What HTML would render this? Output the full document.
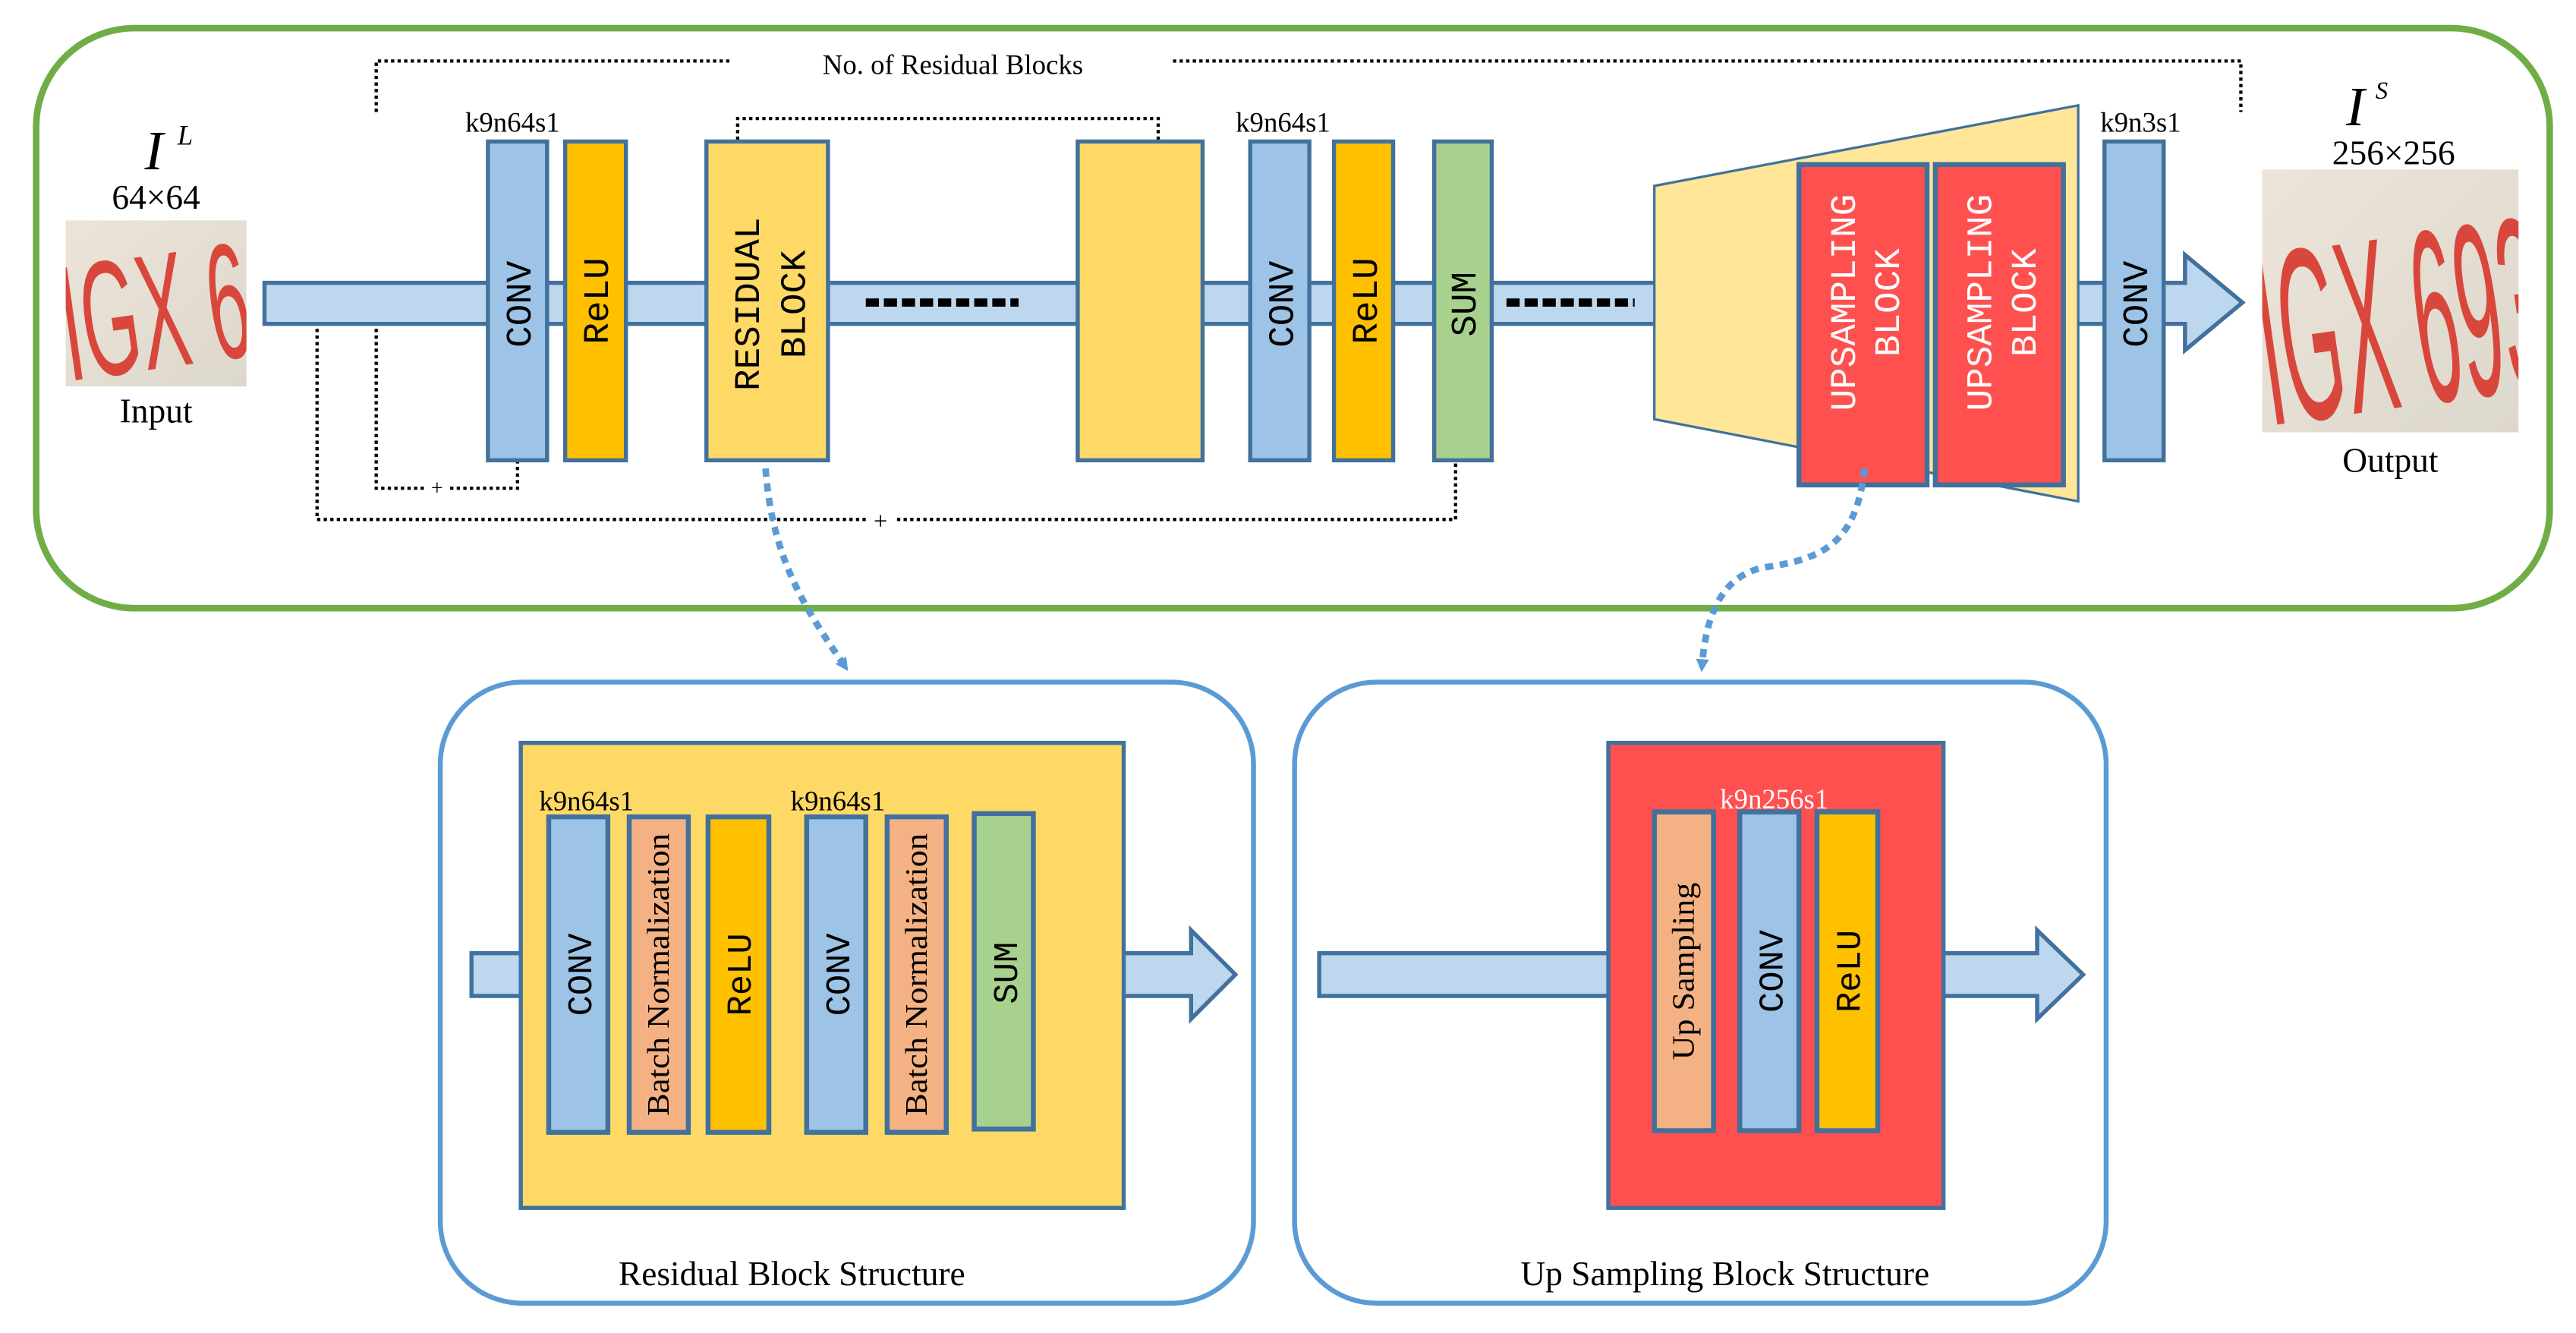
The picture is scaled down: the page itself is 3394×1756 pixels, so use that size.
<!DOCTYPE html>
<html><head><meta charset="utf-8"><style>
html,body{margin:0;padding:0;background:#fff;}
svg{display:block;}
.serif{font-family:"Liberation Serif",serif;}
.mono{font-family:"Liberation Mono",monospace;}
.sans{font-family:"Liberation Sans",sans-serif;}
</style></head><body>
<svg width="3394" height="1756" viewBox="0 0 1568 811" xmlns="http://www.w3.org/2000/svg">
<defs>
<linearGradient id="img" x1="0" y1="0" x2="1" y2="1"><stop offset="0" stop-color="#ece4d8"/><stop offset="1" stop-color="#ddd8cc"/></linearGradient>
<marker id="ah" markerWidth="8" markerHeight="8" refX="4" refY="4" orient="auto" markerUnits="userSpaceOnUse"><path d="M0,0 L8,4 L0,8 Z" fill="#5B9BD5"/></marker>
<clipPath id="c1"><rect x="40" y="134" width="110" height="101"/></clipPath>
<clipPath id="c2"><rect x="1377" y="103" width="156" height="160"/></clipPath>
</defs>
<rect x="22" y="17" width="1530" height="353" rx="60" fill="#fff" stroke="#70AD47" stroke-width="4"/>

<g stroke="#000" stroke-width="2" stroke-dasharray="2,2" fill="none">
<polyline points="229,68 229,37 446,37"/>
<polyline points="714,37 1364,37 1364,68"/>
<polyline points="449,85 449,72 705,72 705,85"/>
<polyline points="229,200 229,297 258,297"/>
<polyline points="274,297 315,297 315,281"/>
<polyline points="193,200 193,316 528,316"/>
<polyline points="546,316 886,316 886,281"/>
</g>
<text x="580" y="45" text-anchor="middle" class="serif" font-size="17">No. of Residual Blocks</text>
<text x="266" y="301" text-anchor="middle" class="serif" font-size="13">+</text>
<text x="536" y="322" text-anchor="middle" class="serif" font-size="15">+</text>

<path d="M161,172 L1330,172 L1330,155 L1365,184 L1330,213 L1330,197 L161,197 Z" fill="#BDD7EE" stroke="#41719C" stroke-width="2.5"/>
<g stroke="#000" stroke-width="5" stroke-dasharray="8,3"><line x1="527" y1="184" x2="620" y2="184"/><line x1="917" y1="184" x2="995" y2="184"/></g>

<g stroke="#41719C" stroke-width="2.5">
<rect x="297" y="86" width="36" height="194" fill="#9DC3E6"/>
<rect x="344" y="86" width="37" height="194" fill="#FFC000"/>
<rect x="430" y="86" width="74" height="194" fill="#FFD966"/>
<rect x="656" y="86" width="76" height="194" fill="#FFD966"/>
<rect x="761" y="86" width="36" height="194" fill="#9DC3E6"/>
<rect x="812" y="86" width="36" height="194" fill="#FFC000"/>
<rect x="873" y="86" width="35" height="194" fill="#A9D18E"/>
<polygon points="1007,113 1265,64 1265,305 1007,255" fill="#FFE699" stroke-width="1.5"/>
<rect x="1095" y="100" width="78" height="195" fill="#FF5050" stroke-width="3"/>
<rect x="1178" y="100" width="78" height="195" fill="#FF5050" stroke-width="3"/>
<rect x="1281" y="86" width="36" height="194" fill="#9DC3E6"/>
</g>
<text x="312" y="80" text-anchor="middle" class="serif" font-size="17">k9n64s1</text>
<text x="781" y="80" text-anchor="middle" class="serif" font-size="17">k9n64s1</text>
<text x="1303" y="80" text-anchor="middle" class="serif" font-size="17">k9n3s1</text>

<g class="mono" font-size="22" text-anchor="middle">
<text transform="translate(323,185) rotate(-90)">CONV</text>
<text transform="translate(370,183) rotate(-90)">ReLU</text>
<text transform="translate(462,185) rotate(-90)">RESIDUAL</text>
<text transform="translate(490,185) rotate(-90)">BLOCK</text>
<text transform="translate(787,185) rotate(-90)">CONV</text>
<text transform="translate(838,183) rotate(-90)">ReLU</text>
<text transform="translate(898,185) rotate(-90)">SUM</text>
<text transform="translate(1307,185) rotate(-90)">CONV</text>
<g fill="#fff"><text transform="translate(1129,184) rotate(-90)">UPSAMPLING</text>
<text transform="translate(1156,184) rotate(-90)">BLOCK</text>
<text transform="translate(1212,184) rotate(-90)">UPSAMPLING</text>
<text transform="translate(1239,184) rotate(-90)">BLOCK</text></g>
</g>

<text x="88" y="103" class="serif" font-size="34" font-style="italic">I</text>
<text x="108" y="88" class="serif" font-size="17" font-style="italic">L</text>
<text x="95" y="127" text-anchor="middle" class="serif" font-size="21">64×64</text>
<rect x="40" y="134" width="110" height="101" fill="url(#img)"/>
<g clip-path="url(#c1)"><text x="36" y="224" class="sans" font-size="100" fill="#d9473c" textLength="140" lengthAdjust="spacingAndGlyphs" transform="rotate(-8 95 185)">IGX 69</text></g>
<text x="95" y="257" text-anchor="middle" class="serif" font-size="21">Input</text>

<text x="1428" y="76" class="serif" font-size="34" font-style="italic">I</text>
<text x="1446" y="60" class="serif" font-size="15" font-style="italic">S</text>
<text x="1457" y="100" text-anchor="middle" class="serif" font-size="21">256×256</text>
<rect x="1377" y="103" width="156" height="160" fill="url(#img)"/>
<g clip-path="url(#c2)"><text x="1372" y="248" class="sans" font-size="150" fill="#d9473c" textLength="175" lengthAdjust="spacingAndGlyphs" transform="rotate(-8 1455 183)">IGX 693</text></g>
<text x="1455" y="287" text-anchor="middle" class="serif" font-size="21">Output</text>

<g stroke="#5B9BD5" stroke-width="4" stroke-dasharray="5,4" fill="none">
<path d="M466,285 C470,340 490,370 514,405" marker-end="url(#ah)"/>
<path d="M1135,285 C1130,330 1110,340 1075,345 C1045,350 1038,380 1036,405" marker-end="url(#ah)"/>
</g>

<rect x="268" y="415" width="495" height="378" rx="50" fill="#fff" stroke="#5B9BD5" stroke-width="3"/>
<path d="M287,580 L320,580 L320,606 L287,606 Z" fill="#BDD7EE" stroke="#41719C" stroke-width="2.5"/>
<path d="M680,580 L725,580 L725,566 L752,593 L725,620 L725,606 L680,606 Z" fill="#BDD7EE" stroke="#41719C" stroke-width="2.5"/>
<rect x="317" y="452" width="367" height="283" fill="#FFD966" stroke="#41719C" stroke-width="2.5"/>
<g stroke="#41719C" stroke-width="3">
<rect x="334" y="497" width="36" height="192" fill="#9DC3E6"/>
<rect x="383" y="497" width="36" height="192" fill="#F4B183"/>
<rect x="431" y="497" width="37" height="192" fill="#FFC000"/>
<rect x="491" y="497" width="36" height="192" fill="#9DC3E6"/>
<rect x="540" y="497" width="36" height="192" fill="#F4B183"/>
<rect x="593" y="495" width="36" height="192" fill="#A9D18E"/>
</g>
<text x="357" y="493" text-anchor="middle" class="serif" font-size="17">k9n64s1</text>
<text x="510" y="493" text-anchor="middle" class="serif" font-size="17">k9n64s1</text>
<g class="mono" font-size="21" text-anchor="middle">
<text transform="translate(360,593) rotate(-90)">CONV</text>
<text transform="translate(407,593) rotate(-90)" class="serif" font-size="19" textLength="172" lengthAdjust="spacingAndGlyphs">Batch Normalization</text>
<text transform="translate(457,593) rotate(-90)">ReLU</text>
<text transform="translate(517,593) rotate(-90)">CONV</text>
<text transform="translate(564,593) rotate(-90)" class="serif" font-size="19" textLength="172" lengthAdjust="spacingAndGlyphs">Batch Normalization</text>
<text transform="translate(619,592) rotate(-90)">SUM</text>
</g>
<text x="482" y="782" text-anchor="middle" class="serif" font-size="21">Residual Block Structure</text>

<rect x="788" y="415" width="494" height="378" rx="50" fill="#fff" stroke="#5B9BD5" stroke-width="3"/>
<path d="M803,580 L982,580 L982,606 L803,606 Z" fill="#BDD7EE" stroke="#41719C" stroke-width="2.5"/>
<path d="M1180,580 L1240,580 L1240,566 L1268,593 L1240,620 L1240,606 L1180,606 Z" fill="#BDD7EE" stroke="#41719C" stroke-width="2.5"/>
<rect x="979" y="452" width="204" height="283" fill="#FF5050" stroke="#41719C" stroke-width="2.5"/>
<g stroke="#41719C" stroke-width="3">
<rect x="1007" y="494" width="36" height="194" fill="#F4B183"/>
<rect x="1059" y="494" width="36" height="194" fill="#9DC3E6"/>
<rect x="1106" y="494" width="37" height="194" fill="#FFC000"/>
</g>
<text x="1080" y="492" text-anchor="middle" class="serif" font-size="17" fill="#fff">k9n256s1</text>
<g class="mono" font-size="21" text-anchor="middle">
<text transform="translate(1031,591) rotate(-90)" class="serif" font-size="19" textLength="108" lengthAdjust="spacingAndGlyphs">Up Sampling</text>
<text transform="translate(1085,591) rotate(-90)">CONV</text>
<text transform="translate(1132,591) rotate(-90)">ReLU</text>
</g>
<text x="1050" y="782" text-anchor="middle" class="serif" font-size="21">Up Sampling Block Structure</text>
</svg>
</body></html>
